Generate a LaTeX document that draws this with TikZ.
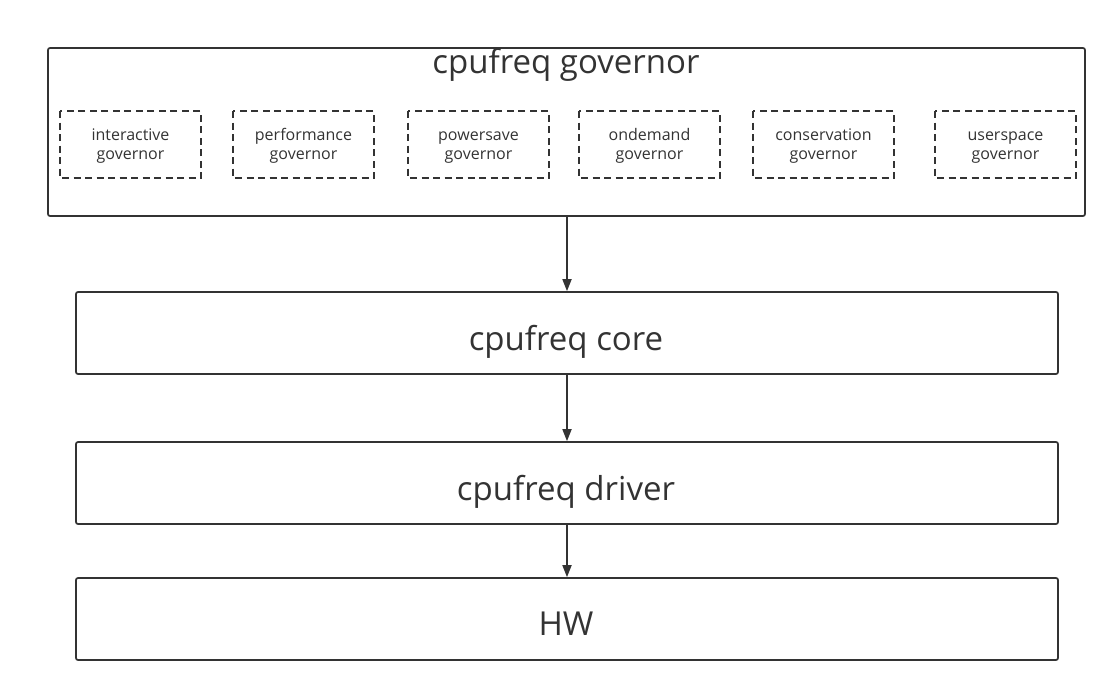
\documentclass[tikz,border=0pt]{standalone}
\usepackage{fontspec}
\setmainfont{Open Sans}
\usetikzlibrary{arrows.meta}
\definecolor{ink}{HTML}{333333}
\begin{document}
\begin{tikzpicture}[x=1pt,y=-1pt,
  layer/.style={draw=ink,line width=1.7pt,rounded corners=2pt,text=ink},
  gov/.style={draw=ink,line width=1.7pt,dash pattern=on 7pt off 4.5pt},
  govtxt/.style={text=ink,anchor=base,inner sep=0pt,font=\fontsize{16}{19}\selectfont},
  big/.style={text=ink,font=\fontsize{33}{36}\selectfont},
  conn/.style={draw=ink,line width=1.7pt,-{Triangle[length=12pt,width=9pt]}}]
\useasboundingbox (0,0) rectangle (1117,691);
\draw[layer] (48,48) rectangle (1085,216);
\coordinate (topS) at (567,216);
\node[big] (title) at (566,65) {cpufreq governor};
\foreach \n/\x/\t in {a/60/interactive,b/233/performance,c/408/powersave,d/579/ondemand,e/753/conservation,f/935/userspace}{
  \draw[gov] (\x,111) rectangle ++(141,67);
  \node[govtxt] (\n1) at (\x+70.5,140.5) {\t};
  \node[govtxt] (\n2) at (\x+70.5,159.5) {governor};
}
\node[layer,minimum width=982pt,minimum height=82pt] (core) at (567,333) {};
\node[big] (corel) at (566,342) {cpufreq core};
\node[layer,minimum width=982pt,minimum height=82pt] (drv) at (567,483) {};
\node[big] (drvl) at (566,492) {cpufreq driver};
\node[layer,minimum width=982pt,minimum height=82pt] (hw) at (567,619) {};
\node[big] (hwl) at (566,624) {HW};
\draw[conn] (topS) -- (core.north);
\draw[conn] (core.south) -- (drv.north);
\draw[conn] (drv.south) -- (hw.north);
\end{tikzpicture}
\end{document}
